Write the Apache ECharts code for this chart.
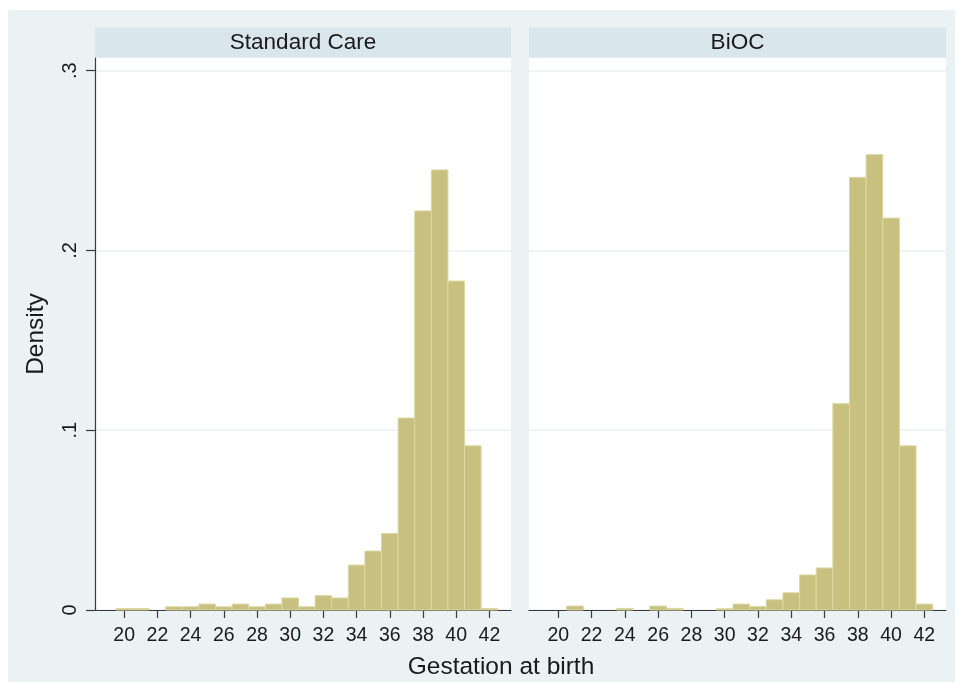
<!DOCTYPE html>
<html><head><meta charset="utf-8">
<script src="https://cdn.jsdelivr.net/npm/echarts@6/dist/echarts.min.js"></script>
<style>html,body{margin:0;padding:0;background:#fff}#c{width:958px;height:682px}</style>
</head><body><div id="c"></div>
<script>
// Data (density per 1-week bin, centred on the integer week)
const gestationWeeks = [20,21,22,23,24,25,26,27,28,29,30,31,32,33,34,35,36,37,38,39,40,41,42];
const standardCare  = [0.0008,0.0008,0,0.0018,0.0018,0.0033,0.0018,0.0033,0.0018,0.0033,0.0067,0.0018,0.008,0.0067,0.025,0.0328,0.0426,0.1068,0.222,0.2448,0.183,0.0913,0.0008];
const bioc          = [0,0.0022,0,0,0.0009,0,0.0022,0.0009,0,0,0.0007,0.0033,0.002,0.0057,0.0096,0.0195,0.0234,0.1148,0.2407,0.2533,0.218,0.0913,0.0033];
const panelTitles = ['Standard Care', 'BiOC'];
const xTickValues = [20,22,24,26,28,30,32,34,36,38,40,42];
const yTickValues = [0, 0.1, 0.2, 0.3];
const xTitle = 'Gestation at birth';
const yTitle = 'Density';
const binWidth = 1;

const FONT = 'Liberation Sans, Arial, sans-serif';
const AXIS_COLOR = '#3a3a3a';
const TEXT_COLOR = '#1a1a1a';

function renderBar(params, api) {
  const x = api.value(0), y = api.value(1);
  if (!y) return null;
  const p0 = api.coord([x - binWidth / 2, y]);
  const p1 = api.coord([x + binWidth / 2, 0]);
  return {
    type: 'rect',
    shape: { x: p0[0], y: p0[1], width: p1[0] - p0[0], height: p1[1] - p0[1] },
    style: { fill: '#c8c07e', stroke: '#dcd8a6', lineWidth: 1 }
  };
}

const yFmt = v => (v === 0 ? '0' : String(+v.toFixed(1)).replace(/^0/, ''));

const panels = [
  { left: 95, width: 416 },
  { left: 529, width: 417 }
];

const grids = panels.map(p => ({
  left: p.left, top: 58, width: p.width, height: 552,
  show: true, backgroundColor: '#ffffff', borderWidth: 0
}));

const xAxes = panels.map((p, i) => ({
  type: 'value', gridIndex: i, min: 18.24, max: 43.3,
  axisLine: { show: true, onZero: false, lineStyle: { color: AXIS_COLOR, width: 1.2 } },
  axisTick: { show: true, length: 8, customValues: xTickValues, lineStyle: { color: AXIS_COLOR, width: 1.2 } },
  axisLabel: { show: true, customValues: xTickValues, margin: 16, fontSize: 19.5, fontFamily: FONT, color: TEXT_COLOR },
  splitLine: { show: false }
}));

const yAxes = panels.map((p, i) => ({
  type: 'value', gridIndex: i, min: 0, max: 0.30706,
  axisLine: { show: i === 0, lineStyle: { color: AXIS_COLOR, width: 1.2 } },
  axisTick: { show: i === 0, length: 9, customValues: yTickValues, lineStyle: { color: AXIS_COLOR, width: 1.2 } },
  axisLabel: { show: i === 0, customValues: yTickValues, rotate: 90, margin: 15, fontSize: 20, fontFamily: FONT, color: TEXT_COLOR, formatter: yFmt },
  splitLine: { show: true, lineStyle: { color: '#eaf2f3', width: 1.5 } },
  name: i === 0 ? yTitle : '',
  nameLocation: 'middle', nameRotate: 90, nameGap: 46,
  nameTextStyle: { fontSize: 24.5, fontFamily: FONT, color: TEXT_COLOR }
}));

const series = [standardCare, bioc].map((vals, i) => ({
  type: 'custom', xAxisIndex: i, yAxisIndex: i,
  renderItem: renderBar,
  encode: { x: 0, y: 1 },
  data: gestationWeeks.map((w, k) => [w, vals[k]])
}));

const graphic = [
  { type: 'rect', z: -100, shape: { x: 8, y: 10, width: 947, height: 672 }, style: { fill: '#eaf2f3' }, silent: true }
];
panels.forEach((p, i) => {
  graphic.push({ type: 'rect', shape: { x: p.left, y: 27.5, width: p.width, height: 30 }, style: { fill: '#d9e6eb' }, silent: true });
  graphic.push({ type: 'text', x: p.left + p.width / 2, y: 43, style: { text: panelTitles[i], fontSize: 22.5, fontFamily: FONT, fill: TEXT_COLOR, align: 'center', verticalAlign: 'middle' }, silent: true });
});
graphic.push({ type: 'text', x: 501, y: 667, style: { text: xTitle, fontSize: 24.5, fontFamily: FONT, fill: TEXT_COLOR, align: 'center', verticalAlign: 'middle' }, silent: true });

const chart = echarts.init(document.getElementById('c'), null, { renderer: 'canvas' });
chart.setOption({
  backgroundColor: '#ffffff',
  animation: false,
  grid: grids,
  xAxis: xAxes,
  yAxis: yAxes,
  series: series,
  graphic: graphic
});
</script>
</body></html>
